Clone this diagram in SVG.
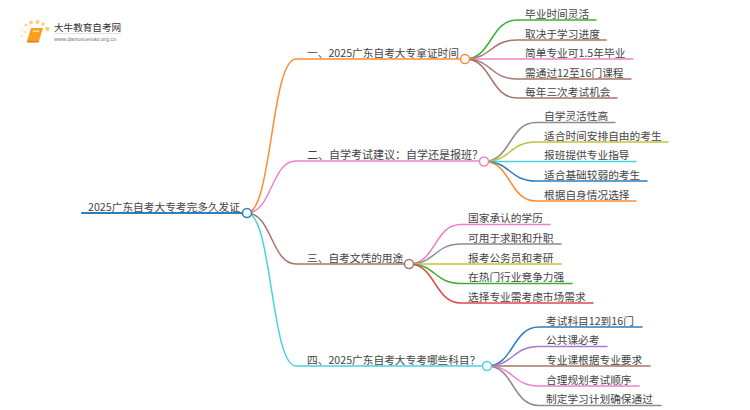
<svg xmlns="http://www.w3.org/2000/svg" width="750" height="410" viewBox="0 0 750 410">
<style>
text{font-family:"Noto Sans CJK SC","Liberation Sans",sans-serif;fill:#444;font-size:10.700px}
.c{fill:none;stroke-width:1.5;stroke-linecap:round}
.b{stroke-width:2}
.n{fill:#fff;stroke-width:1.5}
.o{stroke:#ff8c32}.p{stroke:#ee82c8}.r{stroke:#a5756a}.t{stroke:#45d3de}.g{stroke:#3cb034}.y{stroke:#8c8c8c}.l{stroke:#c4c23a}.u{stroke:#2a7fc0}.d{stroke:#e04b4b}.v{stroke:#a87bd0}
</style>
<g id="logo">
<circle cx="25" cy="32" r="1.3" fill="#fde6b0"/><circle cx="22" cy="30" r="1" fill="#fde6b0"/><circle cx="23" cy="42" r="1" fill="#fdeec8"/><circle cx="22" cy="36" r="1.2" fill="#fde6b0"/>
<circle cx="26" cy="25" r="1.6" fill="#fdd98a"/><circle cx="31" cy="22.500" r="1.900" fill="#fdd27a"/><circle cx="37.500" cy="22" r="2" fill="#fdcf70"/><circle cx="43" cy="24" r="1.800" fill="#fdcf70"/><circle cx="47.500" cy="29" r="2.200" fill="#fdcf70"/>
<path d="M31 28H43L39 41H27Z" fill="#f7a11e"/><path d="M27 41H39L38.500 42.500H27Z" fill="#e8761a"/><path d="M33 30.500H39.500L39 32H32.600Z" fill="#fde0a0"/>
<text x="54" y="31" style="font-size:9.600px;fill:#333">大牛教育自考网</text>
<path d="M54 33.500H121" stroke="#ccc" stroke-width=".6"/>
<text x="54" y="41" style="font-size:5.500px;fill:#777;font-family:'Liberation Sans',sans-serif">www.daniuxuexiao.org.cn</text>
</g>
<g id="connectors">
<path class="c b u" d="M82 213H243"/>
<path class="c o" d="M247 213C272 213 271 59 296 59H461"/>
<path class="c p" d="M247 213C272 213 271 161 296 161H479"/>
<path class="c r" d="M247 213C272 213 271 264 296 264H404"/>
<path class="c t" d="M247 213C272 213 271 366 296 366H482"/>
<path class="c g" d="M465 59C492 59 490 20 517 20H596"/>
<path class="c r" d="M465 59C492 59 490 40 517 40H606"/>
<path class="c p" d="M465 59H633"/>
<path class="c r" d="M465 59C492 59 490 79 517 79H631"/>
<path class="c r" d="M465 59C492 59 490 98 517 98H617"/>
<path class="c y" d="M484 161.500C511 161.500 509 122.500 536 122.500H615"/>
<path class="c l" d="M484 161.500C511 161.500 509 142 536 142H668"/>
<path class="c t" d="M484 161.500H636"/>
<path class="c u" d="M484 161.500C511 161.500 509 181 536 181H647"/>
<path class="c o" d="M484 161.500C511 161.500 509 201 536 201H636"/>
<path class="c p" d="M409 264C436 264 434 224.500 461 224.500H550"/>
<path class="c y" d="M409 264C436 264 434 244 461 244H561"/>
<path class="c l" d="M409 264H561"/>
<path class="c g" d="M409 264C436 264 434 283.500 461 283.500H572"/>
<path class="c d" d="M409 264C436 264 434 303 461 303H593"/>
<path class="c u" d="M487 366C514 366 512 327 539 327H642"/>
<path class="c v" d="M487 366C514 366 512 346.500 539 346.500H607"/>
<path class="c r" d="M487 366H650"/>
<path class="c p" d="M487 366C514 366 512 386 539 386H639"/>
<path class="c y" d="M487 366C514 366 512 405.500 539 405.500H661"/>
</g>
<g id="root"><text x="88" y="210.500">2025广东自考大专考完多久发证</text><circle class="n u" cx="247" cy="213" r="4.500"/></g>
<g id="b1"><text x="307" y="56.500">一、2025广东自考大专拿证时间</text><circle class="n o" cx="465" cy="59" r="4.500"/></g>
<g id="b2"><text x="307" y="158.500" style="font-size:11px">二、自学考试建议：自学还是报班？</text><circle class="n p" cx="484" cy="161.500" r="4.500"/></g>
<g id="b3"><text x="307" y="261.500">三、自考文凭的用途</text><circle class="n r" cx="409" cy="264" r="4.500"/></g>
<g id="b4"><text x="307" y="363.500">四、2025广东自考大专考哪些科目？</text><circle class="n t" cx="487" cy="366" r="4.500"/></g>
<g id="leaves1">
<text x="525" y="17.500">毕业时间灵活</text><text x="525" y="37.500">取决于学习进度</text><text x="525" y="56.500">简单专业可1.5年毕业</text><text x="525" y="76.500">需通过12至16门课程</text><text x="525" y="95.500">每年三次考试机会</text>
</g>
<g id="leaves2">
<text x="544" y="120">自学灵活性高</text><text x="544" y="139.500">适合时间安排自由的考生</text><text x="544" y="159">报班提供专业指导</text><text x="544" y="178.500">适合基础较弱的考生</text><text x="544" y="198.500">根据自身情况选择</text>
</g>
<g id="leaves3">
<text x="468" y="222">国家承认的学历</text><text x="468" y="241.500">可用于求职和升职</text><text x="468" y="261.500">报考公务员和考研</text><text x="468" y="281">在热门行业竞争力强</text><text x="468" y="300.500">选择专业需考虑市场需求</text>
</g>
<g id="leaves4">
<text x="546" y="324.500">考试科目12到16门</text><text x="546" y="344">公共课必考</text><text x="546" y="363.500">专业课根据专业要求</text><text x="546" y="383.500">合理规划考试顺序</text><text x="546" y="403">制定学习计划确保通过</text>
</g>
</svg>
